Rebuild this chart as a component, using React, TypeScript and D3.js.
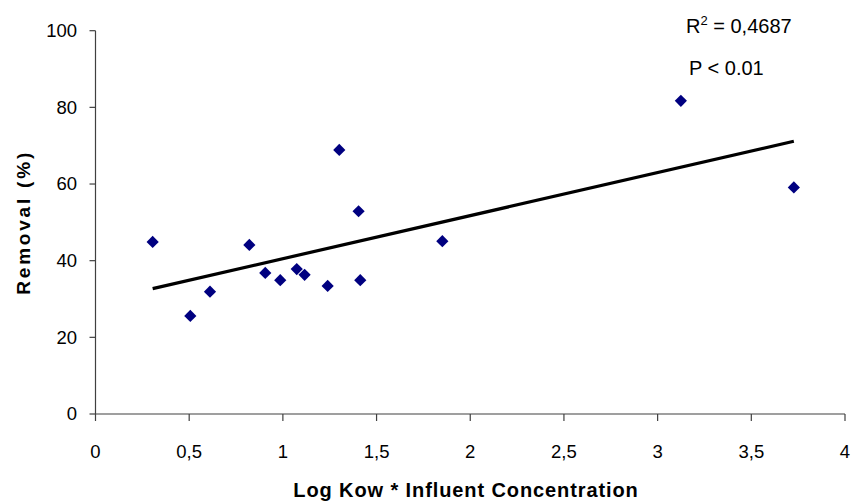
import React from "react";
import * as d3 from "d3";

const xValues = [0.305, 0.506, 0.611, 0.821, 0.906, 0.986, 1.074, 1.116, 1.239, 1.301, 1.404, 1.413, 1.851, 3.124, 3.727];
const yValues = [44.9, 25.6, 31.9, 44.1, 36.8, 34.9, 37.8, 36.3, 33.4, 68.9, 52.9, 34.9, 45.1, 81.7, 59.1];
const xTicks = [0, 0.5, 1, 1.5, 2, 2.5, 3, 3.5, 4];
const yTicks = [0, 20, 40, 60, 80, 100];
const xTitle = "Log Kow * Influent Concentration";
const yTitle = "Removal (%)";
const r2Text = "0,4687";
const pText = "P < 0.01";

const W = 856;
const H = 504;
const font = "'Liberation Sans', Arial, sans-serif";

export default function App() {
  const x = d3.scaleLinear().domain([0, 4]).range([95.5, 845]);
  const y = d3.scaleLinear().domain([0, 100]).range([414, 30.7]);

  const n = xValues.length;
  const mx = d3.mean(xValues)!;
  const my = d3.mean(yValues)!;
  let sxy = 0, sxx = 0;
  for (let i = 0; i < n; i++) {
    sxy += (xValues[i] - mx) * (yValues[i] - my);
    sxx += (xValues[i] - mx) ** 2;
  }
  const slope = sxy / sxx;
  const icpt = my - slope * mx;
  const [x0, x1] = d3.extent(xValues) as [number, number];
  const line = d3.line<number>().x((v) => x(v)).y((v) => y(icpt + slope * v));

  const fmt = (v: number) => String(v).replace(".", ",");
  const diamond = d3.symbol().type(d3.symbolDiamond2).size(95)()!;

  return (
    <svg width={W} height={H} style={{ position: "absolute", left: 0, top: 0 }} fontFamily={font}>
      <rect width={W} height={H} fill="#fff" />
      {/* axes */}
      <line x1={x(0)} x2={x(4)} y1={y(0)} y2={y(0)} stroke="#404040" strokeWidth={1.2} />
      <line x1={x(0)} x2={x(0)} y1={y(0)} y2={y(100)} stroke="#404040" strokeWidth={1.2} />
      {xTicks.map((t) => (
        <g key={"xt" + t}>
          <line x1={x(t)} x2={x(t)} y1={y(0)} y2={y(0) + 7} stroke="#404040" strokeWidth={1.2} />
          <text x={x(t)} y={458} textAnchor="middle" fontSize={18.5} fill="#000">{fmt(t)}</text>
        </g>
      ))}
      {yTicks.map((t) => (
        <g key={"yt" + t}>
          <line x1={x(0) - 6} x2={x(0)} y1={y(t)} y2={y(t)} stroke="#404040" strokeWidth={1.2} />
          <text x={77} y={y(t)} dy="0.35em" textAnchor="end" fontSize={18.5} fill="#000">{t}</text>
        </g>
      ))}
      {/* trend line */}
      <path d={line([x0, x1])!} stroke="#000" strokeWidth={3.2} fill="none" />
      {/* points */}
      {xValues.map((v, i) => (
        <path key={"p" + i} d={diamond} transform={`translate(${x(v)},${y(yValues[i])})`} fill="#000080" />
      ))}
      {/* annotations */}
      <text x={686} y={33} fontSize={20} fill="#000">
        R<tspan fontSize={13} dy={-8}>2</tspan><tspan dy={8}> = {r2Text}</tspan>
      </text>
      <text x={689} y={75} fontSize={20} fill="#000">{pText}</text>
      {/* titles */}
      <text x={466} y={497} textAnchor="middle" fontSize={20} fontWeight="bold" letterSpacing={0.9} fill="#000">{xTitle}</text>
      <text transform={`translate(30,${(y(0) + y(100)) / 2}) rotate(-90)`} textAnchor="middle" fontSize={19} fontWeight="bold" letterSpacing={2.8} fill="#000">{yTitle}</text>
    </svg>
  );
}
